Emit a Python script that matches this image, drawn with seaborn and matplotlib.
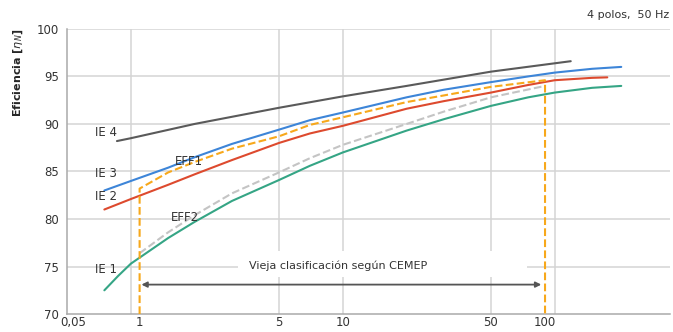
import matplotlib
matplotlib.use("Agg")
import matplotlib.pyplot as plt
import matplotlib.patches as mpatches
import seaborn as sns

# --- Data (power in kW, efficiency in %) ---
ie4_kw = [0.86, 1, 2, 5, 10, 20, 50, 119]
ie4_eff = [88.2, 88.5, 90.0, 91.7, 92.9, 94.0, 95.5, 96.6]

ie3_kw = [0.75, 1, 1.5, 2, 3, 5, 7, 10, 20, 30, 50, 75, 100, 150, 206]
ie3_eff = [83.0, 84.0, 85.4, 86.5, 87.9, 89.4, 90.4, 91.2, 92.8, 93.6, 94.4, 95.0, 95.4, 95.8, 96.0]

ie2_kw = [0.75, 1, 1.5, 2, 3, 5, 7, 10, 20, 30, 50, 75, 100, 150, 177]
ie2_eff = [81.0, 82.1, 83.6, 84.7, 86.2, 88.0, 89.0, 89.8, 91.6, 92.4, 93.3, 94.1, 94.6, 94.85, 94.9]

ie1_kw = [0.75, 0.87, 1, 1.5, 2, 3, 5, 7, 10, 20, 30, 50, 75, 100, 150, 206]
ie1_eff = [72.5, 74.0, 75.3, 78.0, 79.7, 81.9, 84.1, 85.6, 87.0, 89.3, 90.5, 91.9, 92.8, 93.3, 93.8, 94.0]

eff1_kw = [1.1, 1.1, 1.5, 2, 3, 5, 7, 10, 20, 30, 50, 90, 90]
eff1_eff = [70.0, 83.2, 84.9, 86.0, 87.4, 88.7, 89.9, 90.7, 92.3, 93.0, 93.9, 94.6, 70.0]

eff2_kw = [1.1, 1.5, 2, 3, 5, 7, 10, 20, 30, 50, 90]
eff2_eff = [76.4, 78.6, 80.4, 82.7, 84.9, 86.4, 87.8, 90.0, 91.3, 92.8, 94.0]

# arrow for the old CEMEP range
cemep_range = [1.1, 90]

grid_kw = [1, 5, 10, 50, 100]
tick_pos = [0.535, 1.1, 5, 10, 50, 90]
tick_labels = ["0,05", "1", "5", "10", "50", "100"]
y_ticks = [70, 75, 80, 85, 90, 95, 100]

# --- Plot ---
sns.set_style("white")
plt.rcParams['font.family'] = ['DejaVu Sans']

fig = plt.figure(figsize=(6.73, 3.32), dpi=100)
ax = fig.add_axes([0.0996, 0.054, 0.896, 0.859])
ax.set_xscale("log")
ax.set_xlim(0.5, 350)
ax.set_ylim(70, 100)

# grid
for g in grid_kw:
    ax.axvline(g, color="#d4d4d4", lw=1.1, zorder=0)
for yv in y_ticks[1:]:
    ax.axhline(yv, color="#d4d4d4", lw=1.1, zorder=0)

# white box behind the annotation text
ax.add_patch(mpatches.Rectangle((3.2, 73.9), 73.8 - 3.2, 2.7, facecolor="white",
                                edgecolor="none", zorder=1))

series = [
    (ie4_kw, ie4_eff, "#5a5a5a", "-"),
    (ie3_kw, ie3_eff, "#3d85d8", "-"),
    (ie2_kw, ie2_eff, "#dd4a2e", "-"),
    (ie1_kw, ie1_eff, "#35a585", "-"),
    (eff2_kw, eff2_eff, "#c4c4c4", "--"),
    (eff1_kw, eff1_eff, "#f7a81b", "--"),
]
for xs, ys, col, ls in series:
    sns.lineplot(x=xs, y=ys, ax=ax, color=col, linestyle=ls, lw=1.5,
                 sort=False, estimator=None, zorder=3)

# labels on curves
lab_kw = dict(fontsize=8.5, color="#333333", zorder=4)
ax.text(0.68, 88.4, "IE 4", ha="left", va="bottom", **lab_kw)
ax.text(0.68, 84.1, "IE 3", ha="left", va="bottom", **lab_kw)
ax.text(0.68, 81.7, "IE 2", ha="left", va="bottom", **lab_kw)
ax.text(0.68, 74.0, "IE 1", ha="left", va="bottom", **lab_kw)
ax.text(1.62, 85.4, "EFF1", ha="left", va="bottom", **lab_kw)
ax.text(1.55, 79.5, "EFF2", ha="left", va="bottom", **lab_kw)

ax.text(3.6, 75.1, "Vieja clasificación según CEMEP", fontsize=8, color="#333333",
        ha="left", va="center", zorder=4)
ax.annotate("", xy=(cemep_range[0] * 1.02, 73.1), xytext=(cemep_range[1] * 0.96, 73.1),
            arrowprops=dict(arrowstyle="<|-|>", color="#555555", lw=1.3,
                            mutation_scale=8, shrinkA=0, shrinkB=0), zorder=4)

# axes styling
ax.set_xticks(tick_pos)
ax.set_xticklabels(tick_labels)
ax.xaxis.set_minor_locator(matplotlib.ticker.NullLocator())
ax.set_yticks(y_ticks)
ax.tick_params(axis="both", length=0, labelsize=8.5, labelcolor="#333333")
ax.tick_params(axis="y", pad=6)
ax.tick_params(axis="x", pad=1.5)
for side in ["top", "right"]:
    ax.spines[side].set_visible(False)
for side in ["left", "bottom"]:
    ax.spines[side].set_color("#aaaaaa")
    ax.spines[side].set_linewidth(1.1)

ax.set_ylabel(r"Eficiencia [$\eta_N$]", fontsize=8, fontweight="bold", labelpad=8,
              loc="top")
fig.text(0.995, 0.955, "4 polos,  50 Hz", ha="right", va="center", fontsize=8,
         color="#333333")

fig.savefig("out.png", dpi=100)
